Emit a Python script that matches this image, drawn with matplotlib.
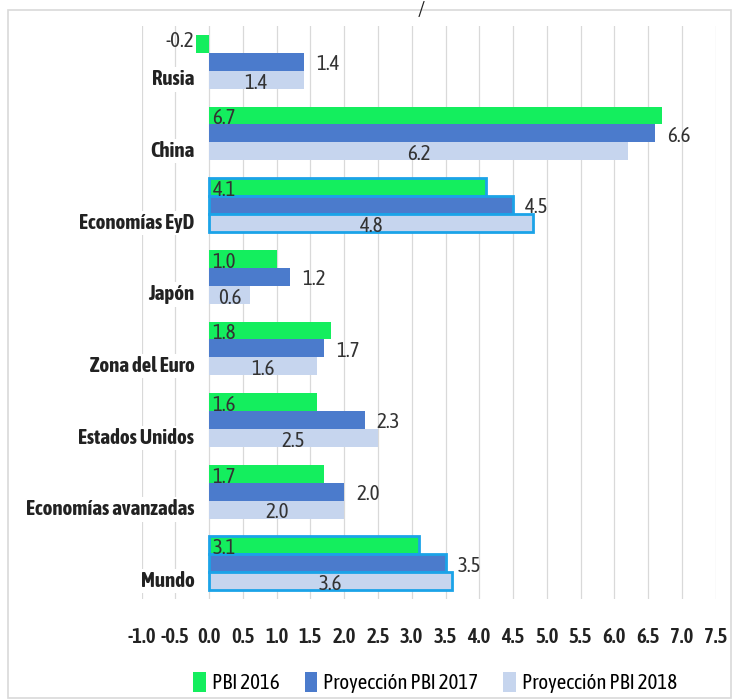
import matplotlib
matplotlib.use("Agg")
import matplotlib.pyplot as plt
from matplotlib.patches import Rectangle
import numpy as np

plt.rcParams['font.family'] = ['Asap Condensed', 'Barlow Semi Condensed', 'DejaVu Sans']

categories = ["Rusia", "China", "Economías EyD", "Japón", "Zona del Euro",
              "Estados Unidos", "Economías avanzadas", "Mundo"]
pbi_2016 = [-0.2, 6.7, 4.1, 1.0, 1.8, 1.6, 1.7, 3.1]
proy_2017 = [1.4, 6.6, 4.5, 1.2, 1.7, 2.3, 2.0, 3.5]
proy_2018 = [1.4, 6.2, 4.8, 0.6, 1.6, 2.5, 2.0, 3.6]
series_names = ["PBI 2016", "Proyección PBI 2017", "Proyección PBI 2018"]
highlighted = ["Economías EyD", "Mundo"]

colors = ["#14EE5E", "#4B7BCC", "#C6D5EE"]
text_col = "#333333"

fig = plt.figure(figsize=(7.34, 7.0), dpi=100)
ax = fig.add_axes([0.193, 0.144, 0.782, 0.819])

# chart frame
fig.patches.append(Rectangle((0.011, 0.003), 0.985, 0.983, transform=fig.transFigure,
                             fill=False, edgecolor="#D9D9D9", linewidth=1.2))
fig.text(0.574, 1.0, "/", ha="center", va="top", fontsize=15, color="#222222")

y = np.arange(len(categories))
h = 0.25
offsets = [-h, 0, h]
all_series = [pbi_2016, proy_2017, proy_2018]

for k, (vals, off) in enumerate(zip(all_series, offsets)):
    edges = ["#1BA3E8" if c in highlighted else colors[k] for c in categories]
    lws = [2.0 if c in highlighted else 0 for c in categories]
    ax.barh(y + off, vals, height=h, color=colors[k], edgecolor=edges,
            linewidth=lws, label=series_names[k], zorder=3)
    for i, v in enumerate(vals):
        lbl = f"{v:.1f}"
        if k == 0:
            if v < 0:
                ax.text(v - 0.03, y[i] + off - 0.04, lbl, ha="right", va="center",
                        fontsize=15, color=text_col, zorder=4)
            else:
                ax.text(0.05, y[i] + off + 0.04, lbl, ha="left", va="center",
                        fontsize=15, color=text_col, zorder=4)
        elif k == 1:
            ax.text(v + 0.18, y[i] + off + 0.03, lbl, ha="left", va="center",
                    fontsize=15, color=text_col, zorder=4)
        else:
            ax.text(v / 2, y[i] + off + 0.04, lbl, ha="center", va="center",
                    fontsize=15, color=text_col, zorder=4)

ax.set_xlim(-1.0, 7.5)
ax.set_ylim(len(categories) - 0.5, -0.5)
ticks = np.arange(-1.0, 7.51, 0.5)
ax.set_xticks(ticks)
ax.set_xticklabels([f"{t:.1f}" for t in ticks], fontsize=15, fontweight="semibold",
                   color="#222222")
ax.set_yticks(y + 0.22)
ax.set_yticklabels(categories, fontsize=15, fontweight="bold", color="#222222")
ax.tick_params(axis="both", length=0)
ax.tick_params(axis="x", pad=20)
# category labels sit next to the zero line, over the negative range
ax.tick_params(axis="y", pad=-38)
for t in ax.get_yticklabels():
    t.set_bbox(dict(facecolor="white", edgecolor="none", pad=1.5))
    t.set_zorder(5)
ax.grid(axis="x", color="#D9D9D9", linewidth=0.9, zorder=0)
for s in ax.spines.values():
    s.set_visible(False)

fig.legend(loc="lower center", bbox_to_anchor=(0.593, -0.017), ncol=3, frameon=False,
           fontsize=15, handlelength=0.6, handleheight=1.1, handletextpad=0.3,
           columnspacing=1.2)

fig.savefig("out.png", dpi=100)
